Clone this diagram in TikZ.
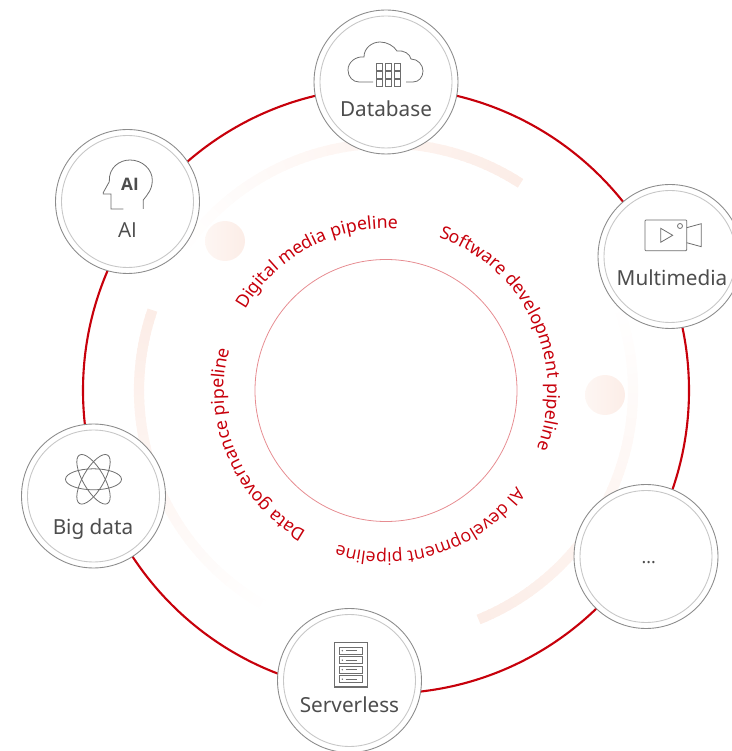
\documentclass[tikz,border=0pt]{standalone}
\usepackage{fontspec}
\setmainfont{Noto Sans}
\newfontfamily\openfont{Open Sans}
\usetikzlibrary{decorations.text}
\definecolor{pipered}{HTML}{C7000B}
\definecolor{paleband}{HTML}{FCEDE7}
\definecolor{textgrey}{HTML}{4D4D4D}
\definecolor{icongrey}{HTML}{6E6E6E}
\newcommand{\arcfont}{\fontsize{10.1pt}{12pt}\selectfont}
% fading band, bright at #1 and gone at #2
\newcommand{\fadeband}[2]{%
  \foreach \k in {0,...,59}{
    \pgfmathsetmacro\pct{100-100*\k/60}
    \pgfmathsetmacro\aone{#1+(#2-#1)*\k/60}
    \pgfmathsetmacro\atwo{#1+(#2-#1)*(\k+1.3)/60}
    \draw[bandline,draw=paleband!\pct!white] ([shift={(\aone:247)}]c) arc[start angle=\aone,end angle=\atwo,radius=247];
  }}
\tikzset{
  ringline/.style={draw=pipered,line width=1.2pt},
  coreline/.style={draw=pipered!45!white,line width=0.45pt},
  bandline/.style={line width=5.8pt},
  svcnode/.style={circle,draw=black!45,fill=white,line width=0.5pt,minimum size=2.88cm,inner sep=0pt},
  svcinner/.style={circle,draw=black!22,line width=0.5pt,minimum size=2.64cm,inner sep=0pt},
  svctext/.style={anchor=base,text=textgrey,font=\fontsize{11.8pt}{14pt}\selectfont,inner sep=0pt},
  iconline/.style={draw=icongrey,line width=0.45pt},
  spot/.style={circle,minimum size=0.8cm,inner sep=0pt,left color=paleband!50!white,right color=paleband},
  arctext/.style 2 args={decorate,decoration={text along path,text={|#1\arcfont\color{pipered}|#2},text align=center}}
}
\begin{document}
\begin{tikzpicture}[x=0.02cm,y=0.02cm]
  \useasboundingbox (0,0) rectangle (732,751);
  \coordinate (c) at (386,360.5);
  % bands and spots behind everything
  \fadeband{57}{145}
  \fadeband{161}{241}
  \fadeband{292}{380}
  \node[spot] (spotleft) at (225,510) {};
  \node[spot] (spotright) at (605,356) {};
  \draw[ringline] (c) circle[radius=303];
  \draw[coreline] (c) circle[radius=131];
  % pipeline names
  \path[arctext={}{Digital media pipeline}] ([shift={(178:162)}]c) arc[start angle=178,end angle=58,radius=162];
  \path[arctext={}{Software development pipeline}] ([shift={(85:162)}]c) arc[start angle=85,end angle=-35,radius=162];
  \path[arctext={\openfont}{AI development pipeline}] ([shift={(-12:162)}]c) arc[start angle=-12,end angle=-132,radius=162];
  \path[arctext={}{Data governance pipeline}] ([shift={(263:162)}]c) arc[start angle=263,end angle=143,radius=162];
  % service circles
  \foreach \nm/\x/\y in {db/386/669,ai/127.5/549.5,media/670/494.5,bigdata/93.5/255,serverless/349.5/70.5,more/646/194.5}{
    \node[svcnode] (\nm) at (\x,\y) {};
    \node[svcinner] (\nm inner) at (\nm) {};
  }
  \node[svctext] (dblabel) at (386,634.5) {Database};
  \node[svctext,font=\openfont\fontsize{11.8pt}{14pt}\selectfont] (ailabel) at (127.5,513) {AI};
  \node[svctext] (medialabel) at (672,465.3) {Multimedia};
  \node[svctext] (bigdatalabel) at (93,216) {Big data};
  \node[svctext] (serverlesslabel) at (349.5,38.5) {Serverless};
  \node[svctext,font=\fontsize{10pt}{12pt}\selectfont] (morelabel) at (648.7,187.5) {...};
  % cloud
  \begin{scope}[shift={(db)}]
    \draw[iconline] (-13,0) -- (-27,0) .. controls (-33,0) and (-38,5) .. (-38,12) .. controls (-38,20) and (-30,26) .. (-22,25) .. controls (-22,34) and (-14,40) .. (-6,40) .. controls (1,40) and (8,36) .. (11,31) .. controls (18,32) and (24,28) .. (25,23) .. controls (32,23) and (37,17) .. (37,11) .. controls (37,5) and (33,0) .. (27,0) -- (20,0);
    \foreach \i in {0,1,2}
      \foreach \j in {0,1,2}
        \draw[iconline] (-9.5+9*\i,-4+8*\j) rectangle ++(6.3,6.3);
  \end{scope}
  % head
  \begin{scope}[shift={(ai)}]
    \draw[iconline] (-4.2,-7.5) -- (-16.5,-7.5) -- (-16.5,7.5) -- (-24.2,7.5) -- (-24.2,9) -- (-18.2,19.8) .. controls (-19,34) and (-8,41.5) .. (2.5,41.5) .. controls (15,41.5) and (24.8,32) .. (24.8,21.5) .. controls (24.8,12) and (20,7) .. (15.8,1.5) -- (15.8,-7.5);
    \node[text=textgrey,font=\openfont\fontsize{9.8pt}{11pt}\bfseries\selectfont,inner sep=0pt] (aibadge) at (2.5,17) {AI};
  \end{scope}
  % camera
  \begin{scope}[shift={(media)}]
    \draw[iconline,rounded corners=0.5pt] (-25,5.8) rectangle (16.7,36.5);
    \draw[iconline] (-9.3,28.2) -- (-9.3,14.2) -- (2.7,21.2) -- cycle;
    \draw[iconline] (10,30.5) circle[radius=2.5];
    \draw[iconline] (16.7,28.8) -- (31.3,32.8) -- (31.3,9.8) -- (16.7,13.8);
  \end{scope}
  % atom
  \begin{scope}[shift={(bigdata)}]
    \foreach \ang in {0,60,-60}
      \draw[iconline,rotate around={\ang:(0,16.7)}] (0,16.7) ellipse[x radius=28,y radius=10.5];
  \end{scope}
  % server rack
  \begin{scope}[shift={(serverless)}]
    \draw[iconline,line width=0.6pt] (-15.2,-6.5) rectangle (18.2,38.2);
    \foreach \s in {0,1,2,3}{
      \draw[iconline] (-10.5,26.5-9.5*\s) rectangle (12.8,33.2-9.5*\s);
      \fill[icongrey] (-7.2,29.8-9.5*\s) circle[radius=0.8];
      \draw[iconline,line width=0.7pt] (-3.8,29.8-9.5*\s) -- (7.8,29.8-9.5*\s);
    }
  \end{scope}
\end{tikzpicture}
\end{document}
